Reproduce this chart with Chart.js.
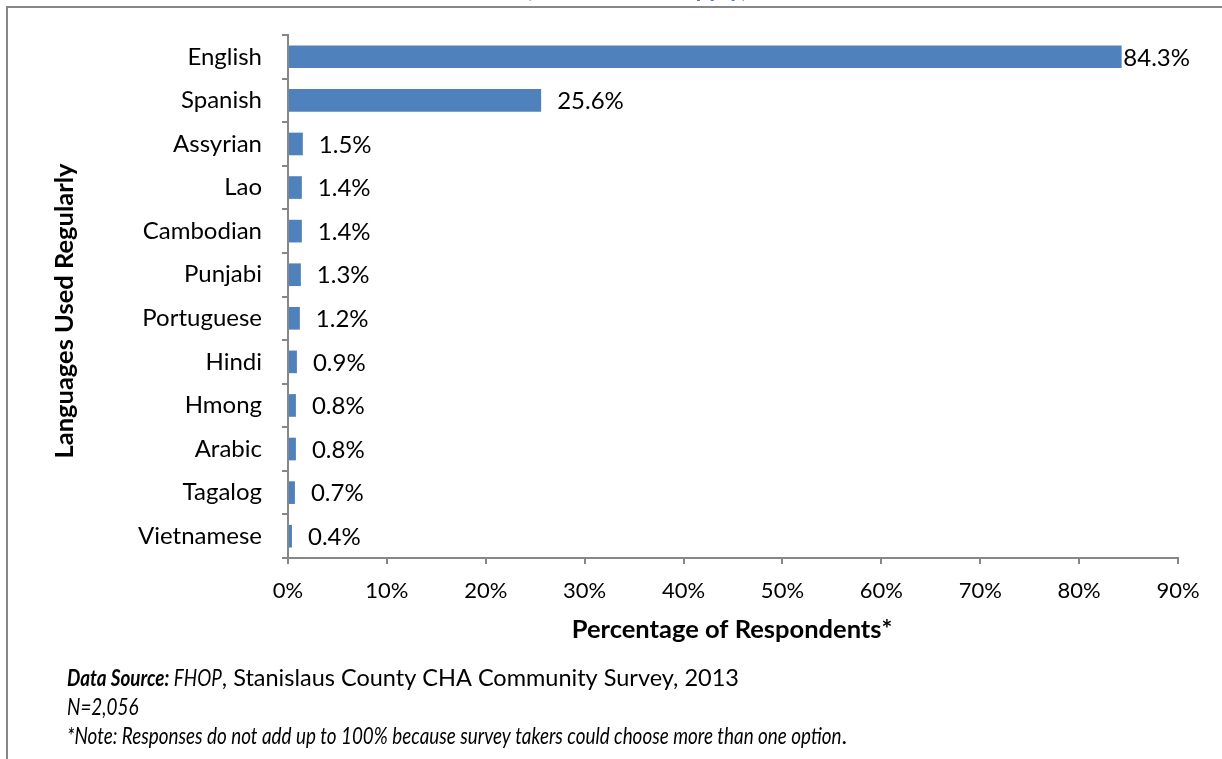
<!DOCTYPE html>
<html>
<head>
<meta charset="utf-8">
<title>Languages Used Regularly</title>
<script src="https://cdn.jsdelivr.net/npm/chart.js@4.4.1/dist/chart.umd.min.js"></script>
<style>
  html, body { margin: 0; padding: 0; background: #fff; }
  canvas { display: block; }
</style>
</head>
<body>
<canvas id="langChart" width="1222" height="759"></canvas>
<script>
var languages = ["English", "Spanish", "Assyrian", "Lao", "Cambodian", "Punjabi",
  "Portuguese", "Hindi", "Hmong", "Arabic", "Tagalog", "Vietnamese"];
var percentUsing = [84.3, 25.6, 1.5, 1.4, 1.4, 1.3, 1.2, 0.9, 0.8, 0.8, 0.7, 0.4];
var percentTicks = [0, 10, 20, 30, 40, 50, 60, 70, 80, 90];

var FONT = "Lato, 'Liberation Sans', sans-serif";
var AXIS_GRAY = "#878787";

// frame, clipped heading, axis titles and source notes
var decorations = {
  id: "decorations",
  beforeDraw: function (chart) {
    var ctx = chart.ctx;
    ctx.save();
    ctx.fillStyle = "#fff";
    ctx.fillRect(0, 0, chart.width, chart.height);
    ctx.strokeStyle = AXIS_GRAY;
    ctx.lineWidth = 2;
    ctx.beginPath();
    ctx.moveTo(7, chart.height);
    ctx.lineTo(7, 7);
    ctx.lineTo(chart.width, 7);
    ctx.stroke();
    ctx.restore();
  },
  afterDraw: function (chart) {
    var ctx = chart.ctx;
    ctx.save();

    // heading sits above the page edge; only the descenders peek through
    ctx.fillStyle = "#4F81BD";
    ctx.font = "bold 24px " + FONT;
    ctx.textBaseline = "alphabetic";
    ctx.textAlign = "right";
    ctx.fillText("Languages Used Regularly", 741, -35);
    ctx.fillText("(Check all that apply)", 741 + ctx.measureText(")").width, -3);

    ctx.fillStyle = "#000";
    ctx.font = "bold 25.5px " + FONT;
    ctx.textAlign = "center";
    ctx.textBaseline = "middle";
    ctx.fillText("Percentage of Respondents*", 732, 630);

    ctx.save();
    ctx.translate(65, 311);
    ctx.rotate(-Math.PI / 2);
    ctx.fillText("Languages Used Regularly", 0, 0);
    ctx.restore();

    // source notes with mixed styles; italic runs are condensed a little
    ctx.textAlign = "left";
    ctx.textBaseline = "alphabetic";
    function runs(parts, x, y) {
      parts.forEach(function (p) {
        var italic = p[0].indexOf("italic") >= 0;
        var sx = italic ? 0.82 : 1;
        ctx.font = p[0] + (italic ? " 23px " : " 23.5px ") + FONT;
        ctx.save();
        ctx.translate(x, y);
        ctx.scale(sx, 1);
        ctx.fillText(p[1], 0, 0);
        ctx.restore();
        x += ctx.measureText(p[1]).width * sx;
      });
    }
    runs([["italic bold", "Data Source:"], ["italic", " FHOP"],
      ["normal", ", Stanislaus County CHA Community Survey, 2013"]], 67, 686);
    runs([["italic", "N=2,056"]], 67, 715);
    runs([["italic", "*Note: Responses do not add up to 100% because survey takers could choose more than one option"],
      ["normal", "."]], 67, 744);

    ctx.restore();
  }
};

// percentage labels just past each bar end
var barValues = {
  id: "barValues",
  afterDatasetsDraw: function (chart) {
    var ctx = chart.ctx;
    var area = chart.chartArea;
    var meta = chart.getDatasetMeta(0);
    ctx.save();
    ctx.font = "24px " + FONT;
    ctx.fillStyle = "#000";
    ctx.textAlign = "left";
    ctx.textBaseline = "middle";
    meta.data.forEach(function (bar, i) {
      var txt = percentUsing[i].toFixed(1) + "%";
      var w = ctx.measureText(txt).width;
      var x = bar.x + 16;
      if (x + w > area.right + 12) {
        x = area.right + 12 - w;
      }
      ctx.fillText(txt, x, bar.y + 1);
    });
    ctx.restore();
  }
};

var ctx = document.getElementById("langChart").getContext("2d");

new Chart(ctx, {
  type: "bar",
  data: {
    labels: languages,
    datasets: [
      {
        label: "Percentage of Respondents",
        data: percentUsing,
        backgroundColor: "#4F81BD",
        borderWidth: 0,
        barPercentage: 0.52,
        categoryPercentage: 1.0,
      },
    ],
  },
  options: {
    indexAxis: "y",
    responsive: false,
    animation: false,
    layout: { padding: { top: 35, right: 44, left: 0, bottom: 0 } },
    scales: {
      x: {
        min: 0,
        max: 90,
        afterFit: function (scale) { scale.height = 201; },
        afterBuildTicks: function (scale) {
          scale.ticks = percentTicks.map(function (v) { return { value: v }; });
        },
        ticks: {
          color: "#000",
          font: { family: FONT, size: 22 },
          padding: 14,
          maxRotation: 0,
          callback: function (v) { return v + "%"; },
        },
        grid: { drawOnChartArea: false, tickLength: 6, color: AXIS_GRAY, lineWidth: 2 },
        border: { color: AXIS_GRAY, width: 2 },
      },
      y: {
        afterFit: function (scale) { scale.width = 288; },
        ticks: {
          color: "#000",
          font: { family: FONT, size: 24 },
          padding: 20,
        },
        grid: { drawOnChartArea: false, tickLength: 6, color: AXIS_GRAY, lineWidth: 2 },
        border: { color: AXIS_GRAY, width: 2 },
      },
    },
    plugins: {
      legend: { display: false },
      tooltip: { enabled: false },
    },
  },
  plugins: [decorations, barValues],
});
</script>
</body>
</html>
